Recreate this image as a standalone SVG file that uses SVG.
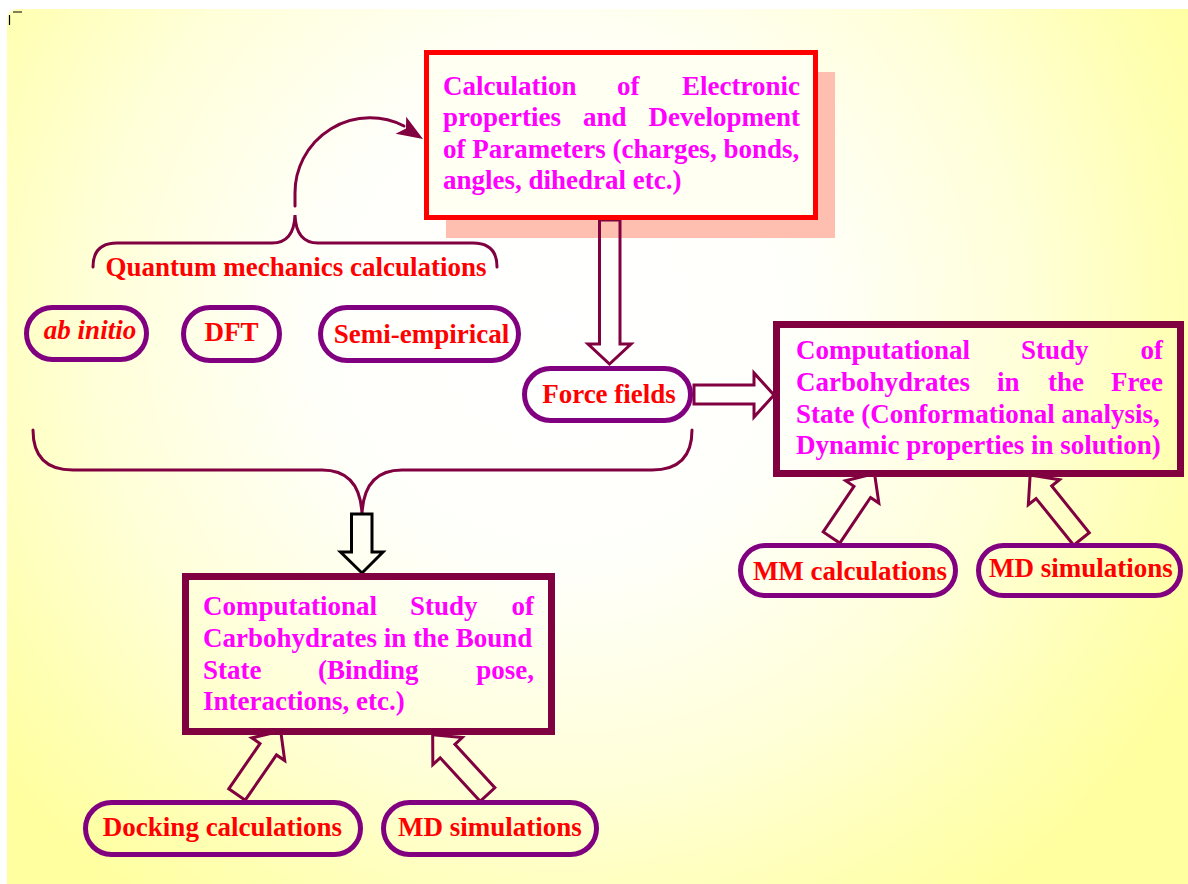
<svg xmlns="http://www.w3.org/2000/svg" width="1188" height="884" viewBox="0 0 1188 884">
<defs>
<radialGradient id="bg" gradientUnits="userSpaceOnUse" cx="560" cy="320" r="720">
<stop offset="0" stop-color="#ffffff"/>
<stop offset="0.35" stop-color="#fffffa"/>
<stop offset="0.65" stop-color="#ffffd8"/>
<stop offset="0.85" stop-color="#ffffb6"/>
<stop offset="1" stop-color="#ffffa0"/>
</radialGradient>
<style>
text{font-family:"Liberation Serif","Times New Roman",serif;font-weight:bold;font-size:27px}
.mag{fill:#ff00ff}
.red{fill:#ff0000}
.pill{fill:none;stroke:#800080;stroke-width:5}
.box{fill:none;stroke:#800040;stroke-width:7}
.hol{fill:none;stroke:#800040;stroke-width:3;stroke-linejoin:miter}
.ln{fill:none;stroke:#800040;stroke-width:3;stroke-linecap:round}
.end{text-anchor:end}
.mid{text-anchor:middle}
</style>
</defs>
<rect width="1188" height="884" fill="#ffffff"/>
<rect x="7" y="9" width="1200" height="900" rx="10" fill="url(#bg)"/>
<path d="M13,12 L22,12 M9.5,15 L9.5,25" stroke="#000" stroke-width="1.2" fill="none"/>
<g id="shadow"><rect x="446" y="72" width="389" height="166" fill="#ffbfb0"/></g>
<g id="connectors">
<path class="ln" d="M295,206 L295,193 A75,75 0 0 1 404,126"/>
<polygon points="423,139 395.6,133.7 406,128.4 406.2,116.7" fill="#800040"/>
<path class="ln" d="M93,267 Q93,243 117,243 L272,243 Q294,243 295,215 Q296,243 318,243 L473,243 Q497,243 497,267"/>
<path class="ln" d="M33,430 Q33,470 73,470 L322,470 Q360,470 362,514 Q364,470 402,470 L652,470 Q692,470 692,430"/>
<polygon class="hol" points="599.5,220 620,220 620,344 631,344 609.5,364 588,344 599.5,344"/>
<polygon class="hol" points="694,385 754,385 754,373 774,395 754,417 754,404 694,404"/>
<polygon points="351.5,514 372,514 372,552 383,552 362,573 340.5,552 351.5,552" fill="none" stroke="#000" stroke-width="3"/>
<polygon class="hol" transform="translate(831.5,537.5) rotate(-56)" points="0,-10 55,-10 55,-20 77,0 55,20 55,10 0,10"/>
<polygon class="hol" transform="translate(1081.5,539) rotate(-128.8)" points="0,-10 60,-10 60,-20 82,0 60,20 60,10 0,10"/>
<polygon class="hol" transform="translate(237,794.5) rotate(-55.4)" points="0,-10 55,-10 55,-20 77,0 55,20 55,10 0,10"/>
<polygon class="hol" transform="translate(487.5,794.5) rotate(-132.6)" points="0,-10 59,-10 59,-20 81,0 59,20 59,10 0,10"/>
</g>
<g id="electronic-box">
<rect x="426.5" y="52.5" width="389" height="165" fill="#fffff2" stroke="#ff0000" stroke-width="5"/>
<text class="mag" y="95"><tspan x="443">Calculation</tspan><tspan x="617">of</tspan><tspan x="800" class="end">Electronic</tspan></text>
<text class="mag" y="126"><tspan x="443">properties</tspan><tspan x="583">and</tspan><tspan x="800" class="end">Development</tspan></text>
<text class="mag" x="443" y="158">of Parameters (charges, bonds,</text>
<text class="mag" x="443" y="189">angles, dihedral etc.)</text>
</g>
<g id="quantum-label"><text class="red mid" x="296" y="276">Quantum mechanics calculations</text></g>
<g id="ab-initio"><rect class="pill" x="26.5" y="307.5" width="120" height="52" rx="26"/><text class="red mid" x="90" y="339" font-style="italic">ab initio</text></g>
<g id="dft"><rect class="pill" x="183.5" y="307.5" width="96" height="53" rx="26.5"/><text class="red mid" x="231.5" y="341">DFT</text></g>
<g id="semi-empirical"><rect class="pill" x="320.5" y="307.5" width="198" height="53" rx="26.5"/><text class="red mid" x="421.5" y="343">Semi-empirical</text></g>
<g id="force-fields"><rect class="pill" x="524.5" y="368.5" width="166" height="52" rx="26"/><text class="red mid" x="609" y="403">Force fields</text></g>
<g id="free-state-box">
<rect class="box" x="776.5" y="324.5" width="404" height="149"/>
<text class="mag" y="359"><tspan x="796">Computational</tspan><tspan x="1021">Study</tspan><tspan x="1163" class="end">of</tspan></text>
<text class="mag" y="391"><tspan x="796">Carbohydrates</tspan><tspan x="997">in</tspan><tspan x="1048">the</tspan><tspan x="1163" class="end">Free</tspan></text>
<text class="mag" x="796" y="423">State (Conformational analysis,</text>
<text class="mag" x="796" y="454">Dynamic properties in solution)</text>
</g>
<g id="mm-calculations"><rect class="pill" x="740.5" y="545.5" width="215" height="50" rx="25"/><text class="red mid" x="850" y="580">MM calculations</text></g>
<g id="md-simulations-free"><rect class="pill" x="978.5" y="545.5" width="202" height="50" rx="25"/><text class="red mid" x="1081" y="577">MD simulations</text></g>
<g id="bound-state-box">
<rect class="box" x="185.5" y="576.5" width="366" height="155"/>
<text class="mag" y="615"><tspan x="203">Computational</tspan><tspan x="410">Study</tspan><tspan x="534" class="end">of</tspan></text>
<text class="mag" x="203" y="647">Carbohydrates in the Bound</text>
<text class="mag" y="679"><tspan x="203">State</tspan><tspan x="318">(Binding</tspan><tspan x="534" class="end">pose,</tspan></text>
<text class="mag" x="203" y="710">Interactions, etc.)</text>
</g>
<g id="docking-calculations"><rect class="pill" x="85.5" y="802.5" width="275" height="52" rx="26"/><text class="red mid" x="222.5" y="836">Docking calculations</text></g>
<g id="md-simulations-bound"><rect class="pill" x="383.5" y="802.5" width="213" height="52" rx="26"/><text class="red mid" x="490" y="836">MD simulations</text></g>
</svg>
